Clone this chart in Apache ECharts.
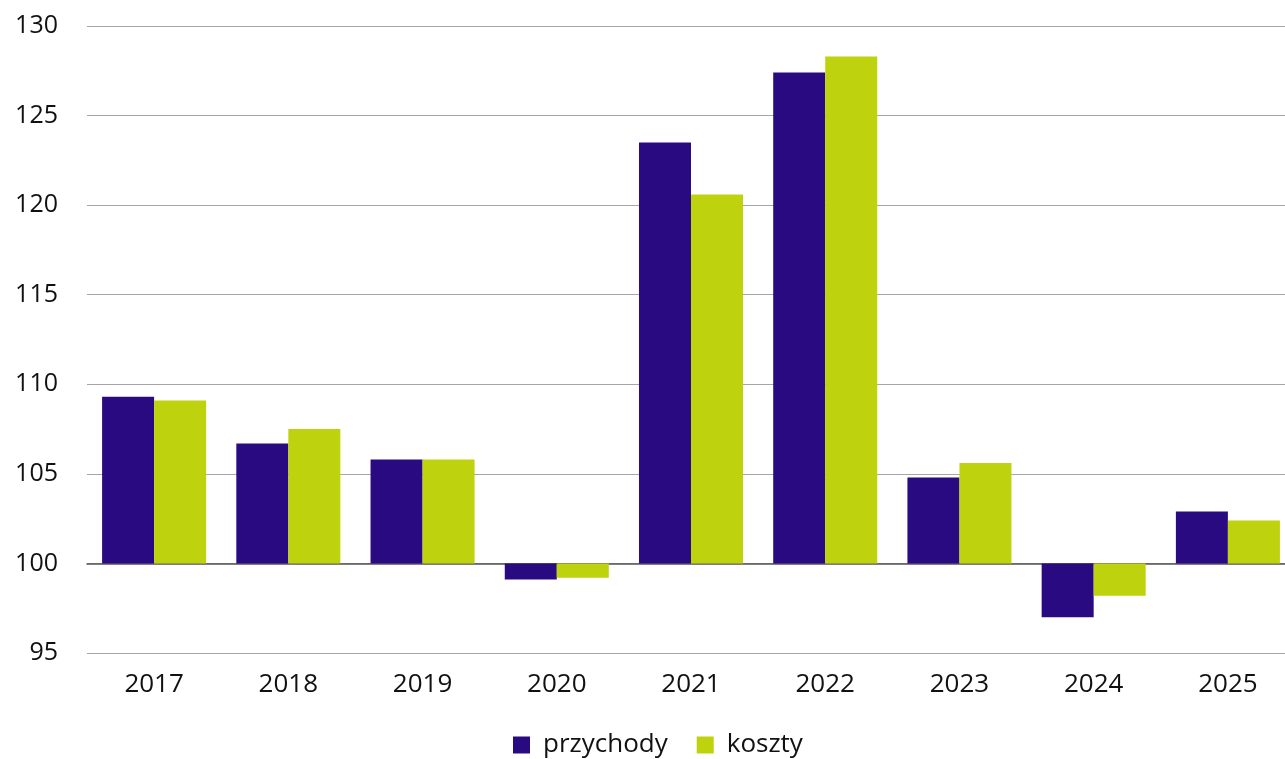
<!DOCTYPE html>
<html><head><meta charset="utf-8">
<script src="https://cdn.jsdelivr.net/npm/echarts@6/dist/echarts.min.js"></script>
<style>html,body{margin:0;padding:0;background:#fff;overflow:hidden;width:1285px;height:759px}#c{width:1295px;height:759px}</style>
</head><body><div id="c"></div>
<script>
const categories = ['2017','2018','2019','2020','2021','2022','2023','2024','2025'];
const przychody = [109.3, 106.7, 105.8, 99.1, 123.5, 127.4, 104.8, 97.0, 102.9];
const koszty = [109.1, 107.5, 105.8, 99.2, 120.6, 128.3, 105.6, 98.2, 102.4];
const BASE = 100;
const yTicks = [95, 100, 105, 110, 115, 120, 125, 130];

const chart = echarts.init(document.getElementById('c'));
const font = 'Open Sans';
chart.setOption({
  animation: false,
  textStyle: { fontFamily: font },
  grid: { left: 87, right: 0, top: 26, bottom: 106 },
  legend: {
    bottom: -4, left: 508,
    itemWidth: 17, itemHeight: 17, itemGap: 29,
    icon: 'rect',
    textStyle: { fontSize: 26, color: '#111', fontFamily: font, padding: [0, 0, 0, 8] },
    data: ['przychody', 'koszty']
  },
  xAxis: [
    { type: 'category', data: categories,
      axisLine: { onZero: true, lineStyle: { color: '#555', width: 1.5 } },
      axisTick: { show: false }, axisLabel: { show: false } },
    { type: 'category', data: categories, position: 'bottom', gridIndex: 0,
      axisLine: { show: false, onZero: false }, axisTick: { show: false },
      axisLabel: { fontSize: 26, color: '#111', margin: 19 } }
  ],
  yAxis: {
    type: 'value', min: yTicks[0] - BASE, max: yTicks[yTicks.length - 1] - BASE, interval: 5,
    axisLine: { show: false }, axisTick: { show: false },
    splitLine: { lineStyle: { color: '#a6a6a6', width: 1 } },
    axisLabel: { fontSize: 25, color: '#111', margin: 29, formatter: v => String(v + BASE) }
  },
  series: [
    { name: 'przychody', type: 'bar', data: przychody.map(v => +(v - BASE).toFixed(2)),
      itemStyle: { color: '#2a0a80' }, barGap: '0%', barCategoryGap: '22.5%' },
    { name: 'koszty', type: 'bar', data: koszty.map(v => +(v - BASE).toFixed(2)),
      itemStyle: { color: '#bfd20e' }, barGap: '0%', barCategoryGap: '22.5%' }
  ]
});
</script></body></html>
